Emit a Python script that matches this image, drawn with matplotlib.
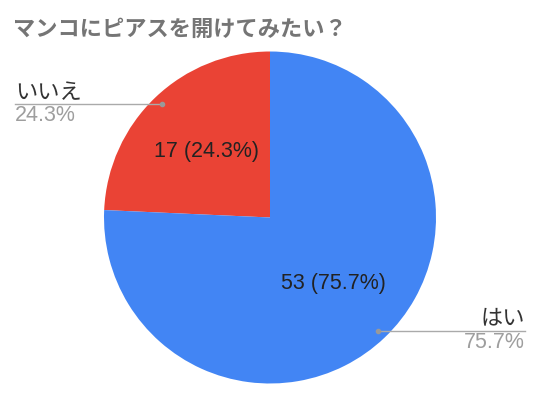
import matplotlib
matplotlib.use("Agg")
import matplotlib.pyplot as plt
import numpy as np

plt.rcParams['font.family'] = ['Liberation Sans', 'Noto Sans CJK JP', 'DejaVu Sans']

title = "マンコにピアスを開けてみたい？"
labels = ["いいえ", "はい"]
values = [17, 53]
colors = ["#ea4335", "#4285f4"]

W, H = 540, 398
fig = plt.figure(figsize=(W / 100, H / 100), dpi=100)
ax = fig.add_axes([0, 0, 1, 1])

cx, cy, R = 270, H - 217.5, 166
total = sum(values)

def fmt(p):
    n = int(round(p * total / 100))
    return f"{n} ({p:.1f}%)"

wedges, texts, autotexts = ax.pie(
    values, colors=colors, startangle=90, counterclock=True,
    center=(cx, cy), radius=R, autopct=fmt, pctdistance=0.55,
    wedgeprops=dict(linewidth=0), frame=True,
    textprops=dict(fontsize=15.5, color="#222222"))
ax.set_xlim(0, W)
ax.set_ylim(0, H)
ax.set_aspect('equal')
ax.axis('off')

fig.text(13 / W, 1 - 29.5 / H, title, fontsize=16, fontweight='bold',
         color="#757575", va='center', ha='left',
         family=['Noto Sans CJK JP', 'DejaVu Sans'])

pcts = [v / total * 100 for v in values]
grey = "#9e9e9e"
jp = ['Noto Sans CJK JP', 'DejaVu Sans']
# Left label (いいえ)
ax.plot([15, 162], [H - 104, H - 104], color="#aaaaaa", lw=1)
ax.plot([162], [H - 104], 'o', color="#999999", ms=3)
ax.text(15, H - 92.5, labels[0], fontsize=16, color="#333333", ha='left', va='center', family=jp)
ax.text(15, H - 115.5, f"{pcts[0]:.1f}%", fontsize=15.5, color=grey, ha='left', va='center')
# Right label (はい)
ax.plot([378, 525], [H - 331, H - 331], color="#aaaaaa", lw=1)
ax.plot([378], [H - 331], 'o', color="#999999", ms=3)
ax.text(525, H - 318, labels[1], fontsize=16, color="#333333", ha='right', va='center', family=jp)
ax.text(525, H - 343, f"{pcts[1]:.1f}%", fontsize=15.5, color=grey, ha='right', va='center')

fig.savefig("out.png", dpi=100)
